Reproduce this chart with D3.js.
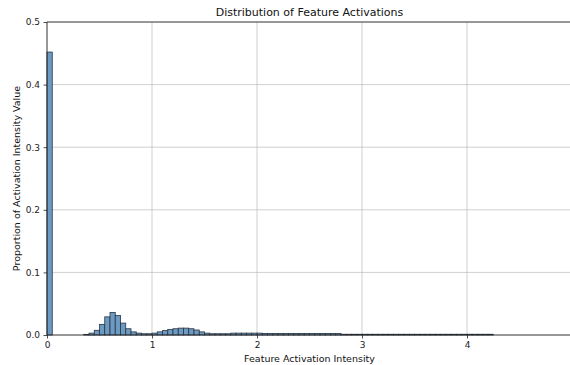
<!DOCTYPE html>
<html>
<head>
<meta charset="utf-8">
<script src="https://cdn.jsdelivr.net/npm/d3@7"></script>
<style>
  body { margin: 0; background: #fff; overflow: hidden; }
  svg { font-family: "DejaVu Sans", sans-serif; display: block; }
</style>
</head>
<body>
<div id="chart"></div>
<script>
// bin width of the histogram (activation intensity units)
const binWidth = 0.05;
// proportion per bin, starting at 0
const binValues = [
  0.452, 0, 0, 0, 0, 0, 0, 0.001, 0.003, 0.0075,
  0.017, 0.029, 0.036, 0.031, 0.019, 0.010, 0.005, 0.003, 0.002, 0.002,
  0.003, 0.005, 0.007, 0.009, 0.010, 0.011, 0.011, 0.010, 0.008, 0.005,
  0.003, 0.002, 0.002, 0.002, 0.002, 0.003, 0.003, 0.003, 0.003, 0.003,
  0.003, 0.0025, 0.0025, 0.0025, 0.0025, 0.0025, 0.0025, 0.0025, 0.0025, 0.0025,
  0.0025, 0.0025, 0.0025, 0.0025, 0.0025, 0.0025, 0.0012, 0.0012, 0.0012, 0.0012,
  0.0012, 0.0012, 0.0012, 0.0012, 0.0012, 0.0012, 0.0012, 0.0012, 0.0012, 0.0012,
  0.0012, 0.0012, 0.0012, 0.0012, 0.0012, 0.0012, 0.0012, 0.0012, 0.0012, 0.0012,
  0.0012, 0.0012, 0.0012, 0.0012, 0.0012
];
const xTicks = [0, 1, 2, 3, 4];
const yTicks = [0, 0.1, 0.2, 0.3, 0.4, 0.5];

const titleText = 'Distribution of Feature Activations';
const xLabelText = 'Feature Activation Intensity';
const yLabelText = 'Proportion of Activation Intensity Value';

const width = 570, height = 365;
// the right edge of the axes sits just outside the picture
const margin = {top: 22, right: -2, bottom: 30, left: 47};

const svg = d3.select('#chart').append('svg')
  .attr('width', width)
  .attr('height', height);

const x = d3.scaleLinear().domain([0, 5]).range([margin.left, width - margin.right]);
const y = d3.scaleLinear().domain([0, 0.5]).range([height - margin.bottom, margin.top]);

// grid lines (behind the bars)
const grid = svg.append('g').attr('class', 'grid');
grid.selectAll('line.gx')
  .data(xTicks)
  .enter().append('line')
  .attr('x1', d => x(d)).attr('x2', d => x(d))
  .attr('y1', y(0)).attr('y2', y(0.5))
  .attr('stroke', '#b0b0b0').attr('stroke-width', 0.8).attr('stroke-opacity', 0.75);
grid.selectAll('line.gy')
  .data(yTicks)
  .enter().append('line')
  .attr('x1', x(0)).attr('x2', x(5))
  .attr('y1', d => y(d)).attr('y2', d => y(d))
  .attr('stroke', '#b0b0b0').attr('stroke-width', 0.8).attr('stroke-opacity', 0.75);

// histogram bars
const bins = binValues.map((v, i) => ({x0: i * binWidth, x1: (i + 1) * binWidth, value: v}));
svg.append('g').attr('class', 'bars')
  .selectAll('rect')
  .data(bins)
  .enter().append('rect')
  .attr('x', d => x(d.x0))
  .attr('width', d => x(d.x1) - x(d.x0))
  .attr('y', d => y(d.value))
  .attr('height', d => y(0) - y(d.value))
  .attr('fill', '#6b9bc3')
  .attr('stroke', '#2b3440')
  .attr('stroke-width', 0.8);

// axes
const xAxis = svg.append('g')
  .attr('transform', 'translate(0,' + y(0) + ')')
  .call(d3.axisBottom(x).tickValues(xTicks).tickFormat(d3.format('d')).tickSize(3.5).tickPadding(3.5));
const yAxis = svg.append('g')
  .attr('transform', 'translate(' + x(0) + ',0)')
  .call(d3.axisLeft(y).tickValues(yTicks).tickFormat(d3.format('.1f')).tickSize(3.5).tickPadding(3.5));
[xAxis, yAxis].forEach(a => {
  a.select('.domain').remove();
  a.selectAll('text').attr('font-size', 9).attr('fill', '#222').attr('font-family', '"DejaVu Sans", sans-serif');
  a.selectAll('line').attr('stroke', '#222').attr('stroke-width', 0.8);
});

// spines: left, bottom, top (right one falls outside the picture)
const spines = [
  [x(0), y(0), x(0), y(0.5)],
  [x(0), y(0), x(5), y(0)],
  [x(0), y(0.5), x(5), y(0.5)]
];
svg.append('g').selectAll('line')
  .data(spines)
  .enter().append('line')
  .attr('x1', d => d[0]).attr('y1', d => d[1])
  .attr('x2', d => d[2]).attr('y2', d => d[3])
  .attr('stroke', '#222').attr('stroke-width', 0.8);

// title and labels
svg.append('text')
  .attr('x', (x(0) + x(5)) / 2).attr('y', 16)
  .attr('text-anchor', 'middle').attr('font-size', 11).attr('fill', '#111')
  .text(titleText);
svg.append('text')
  .attr('x', (x(0) + x(5)) / 2).attr('y', 362)
  .attr('text-anchor', 'middle').attr('font-size', 9.5).attr('fill', '#111')
  .text(xLabelText);
svg.append('text')
  .attr('transform', 'translate(20,' + (y(0) + y(0.5)) / 2 + ') rotate(-90)')
  .attr('text-anchor', 'middle').attr('font-size', 9.5).attr('fill', '#111')
  .text(yLabelText);
</script>
</body>
</html>
